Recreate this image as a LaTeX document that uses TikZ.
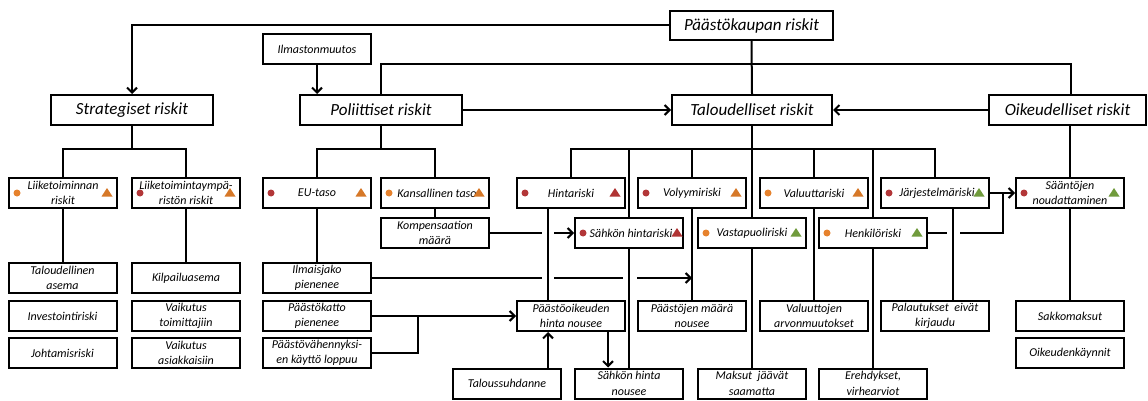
\documentclass[tikz,border=0pt]{standalone}
\usepackage{fontspec}
\setmainfont{Carlito}
\usetikzlibrary{arrows.meta,calc}
\definecolor{dred}{RGB}{178,54,56}
\definecolor{dorg}{RGB}{230,130,45}
\definecolor{torg}{RGB}{214,120,40}
\definecolor{tgrn}{RGB}{112,155,60}
\definecolor{tred}{RGB}{176,52,52}
\newcommand\riskmk[4][11]{%
  \fill[#3] ([xshift=9pt]#2.west) circle (3.5pt);
  \fill[#4] ($(#2.east)+(-#1,0)+(-5.5,3.5)$) -- ($(#2.east)+(-#1,0)+(5.5,3.5)$) -- ($(#2.east)+(-#1,0)+(0,-5)$) -- cycle;}
\begin{document}
\begin{tikzpicture}[x=1pt,y=-1pt,
  box/.style={draw, line width=2pt, fill=white, inner sep=1pt, align=center,
    font=\fontsize{12}{15.5}\selectfont\itshape, minimum height=30pt, minimum width=108pt},
  bigbox/.style={box, font=\fontsize{17}{20}\selectfont\itshape, minimum width=162pt},
  ln/.style={line width=2pt},
  arr/.style={ln, -{Straight Barb[length=5pt,width=10pt]}}]
\useasboundingbox (0,0) rectangle (1148,401);

% level 0/1
\node[bigbox, minimum width=163pt, minimum height=29pt] (top) at (751.5,25.5) {Päästökaupan riskit};
\node[bigbox] (strat) at (132,110) {Strategiset riskit};
\node[box] (ilmasto) at (317,49) {Ilmastonmuutos};
\node[bigbox] (polit) at (381,110) {Poliittiset riskit};
\node[bigbox, minimum width=160pt] (talous) at (752,110) {Taloudelliset riskit};
\node[bigbox, minimum width=157pt] (oikeus) at (1067.5,110) {Oikeudelliset riskit};

% row 1
\node[box] (liike) at (63,193) {Liiketoiminnan\\riskit};
\node[box] (ymp) at (186,193) {Liiketoimintaympä-\\ristön riskit};
\node[box] (eu) at (317,193) {EU-taso};
\node[box] (kans) at (435,193) {\hspace*{4pt}Kansallinen taso};
\node[box] (hinta) at (571,193) {Hintariski};
\node[box] (volyy) at (692,193) {Volyymiriski};
\node[box] (valuu) at (814,193) {Valuuttariski};
\node[box] (jarj) at (935,193) {\hspace*{4pt}Järjestelmäriski};
\node[box] (saan) at (1070,193) {Sääntöjen\\noudattaminen};

% row 2
\node[box] (komp) at (435,233) {Kompensaation\\määrä};
\node[box] (shinta) at (629,233) {\hspace*{4pt}Sähkön hintariski};
\node[box] (vasta) at (752,233) {Vastapuoliriski};
\node[box] (henk) at (873,233) {Henkilöriski};

% row 3
\node[box] (tasema) at (62.5,278) {Taloudellinen\\asema};
\node[box] (kilp) at (186,278) {Kilpailuasema};
\node[box] (ilmais) at (317,278) {Ilmaisjako\\pienenee};

% row 4
\node[box] (invest) at (62.5,316) {Investointiriski};
\node[box] (vtoim) at (186,316) {Vaikutus\\toimittajiin};
\node[box] (katto) at (317,316) {Päästökatto\\pienenee};
\node[box] (poik) at (571,316) {Päästöoikeuden\\hinta nousee};
\node[box] (pmaara) at (692,316) {Päästöjen määrä\\nousee};
\node[box] (valmuut) at (814,316) {Valuuttojen\\arvonmuutokset};
\node[box] (palaut) at (935,316) {Palautukset~ eivät\\kirjaudu};
\node[box] (sakko) at (1070,316) {Sakkomaksut};

% row 5
\node[box] (johto) at (62.5,353) {Johtamisriski};
\node[box] (vasiak) at (186,353) {Vaikutus\\asiakkaisiin};
\node[box] (vahenn) at (317,353) {Päästövähennyksi-\\en käyttö loppuu};
\node[box] (oikkay) at (1070,353) {Oikeudenkäynnit};

% row 6
\node[box] (talsuh) at (507,383.5) {Taloussuhdanne};
\node[box] (shnousee) at (629,383.5) {Sähkön hinta\\nousee};
\node[box] (maksut) at (752,383.5) {Maksut~ jäävät\\saamatta};
\node[box] (ereh) at (873,383.5) {Erehdykset,\\virhearviot};

% markers
\riskmk{liike}{dorg}{torg}
\riskmk{ymp}{dred}{torg}
\riskmk{eu}{dred}{torg}
\riskmk{kans}{dorg}{torg}
\riskmk{hinta}{dred}{tred}
\riskmk{volyy}{dred}{torg}
\riskmk{valuu}{dorg}{torg}
\riskmk{jarj}{dred}{tgrn}
\riskmk{saan}{dred}{tgrn}
\riskmk[7]{shinta}{dred}{tred}
\riskmk{vasta}{dorg}{tgrn}
\riskmk{henk}{dorg}{tgrn}

% top level connectors
\draw[arr] (top.west) -| (strat.north);
\draw[arr] (ilmasto.south) -- (ilmasto.south |- polit.north);
\draw[ln] (polit.north) -- ++(0,-30) -| ([xshift=3.5pt]oikeus.north);
\draw[ln] (top.south) -- (talous.north);
\draw[arr] (polit.east) -- (talous.west);
\draw[arr] (oikeus.west) -- (talous.east);

% branches
\coordinate (sj) at (132,149);
\draw[ln] (strat.south) -- (sj);
\draw[ln] (liike.north) |- (sj) -| (ymp.north);
\coordinate (pj) at (381,149);
\draw[ln] (polit.south) -- (pj);
\draw[ln] (eu.north) |- (pj) -| (kans.north);
\coordinate (tj) at (752,149);
\draw[ln] (talous.south) -- (tj);
\draw[ln] (hinta.north) |- (tj) -| (jarj.north);
\foreach \n in {shinta,volyy,vasta,valuu,henk}
  \draw[ln] (\n.north) -- (\n.north |- tj);
\draw[ln] (saan.north) -- (saan.north |- oikeus.south);

% simple verticals
\draw[ln] (liike.south) -- (liike.south |- tasema.north);
\draw[ln] (ymp.south) -- (kilp.north);
\draw[ln] (eu.south) -- (ilmais.north);
\draw[ln] (kans.south) -- (komp.north);
\draw[ln] (saan.south) -- (sakko.north);
\draw[ln] (volyy.south) -- (pmaara.north);
\draw[ln] (valuu.south) -- (valmuut.north);
\draw[ln] (vasta.south) -- (maksut.north);
\draw[ln] (henk.south) -- (ereh.north);

% horizontals (with gaps at crossings)
\coordinate (vy) at (692,0);
\coordinate (hj) at (1003,0);
\draw[arr] (komp.east) -- (shinta.west);
\draw[arr] (ilmais.east) -- (ilmais.east -| vy);
\draw[arr] (katto.east) -- (poik.west);
\draw[ln] (vahenn.east) -| ($(katto.east)+(46,0)$);
\draw[arr] (jarj.east) -- (saan.west);
\draw[ln] (henk.east) -| (jarj.east -| hj);
\fill[white] (542,226) rectangle (554,240);
\fill[white] (542,271) rectangle (554,285);
\fill[white] (623,271) rectangle (637,285);
\fill[white] (947,226) rectangle (960,240);

% crossing verticals
\coordinate (hx) at (548,0);
\coordinate (px) at (608,0);
\coordinate (jx) at (953,0);
\draw[ln] (hinta.south -| hx) -- (poik.north -| hx);
\draw[ln] (shinta.south) -- (shnousee.north);
\draw[ln] (jarj.south -| jx) -- (palaut.north -| jx);
\draw[arr] (talsuh.north -| hx) -- (poik.south -| hx);
\draw[arr] (poik.south -| px) -- (shnousee.north -| px);
\end{tikzpicture}
\end{document}
